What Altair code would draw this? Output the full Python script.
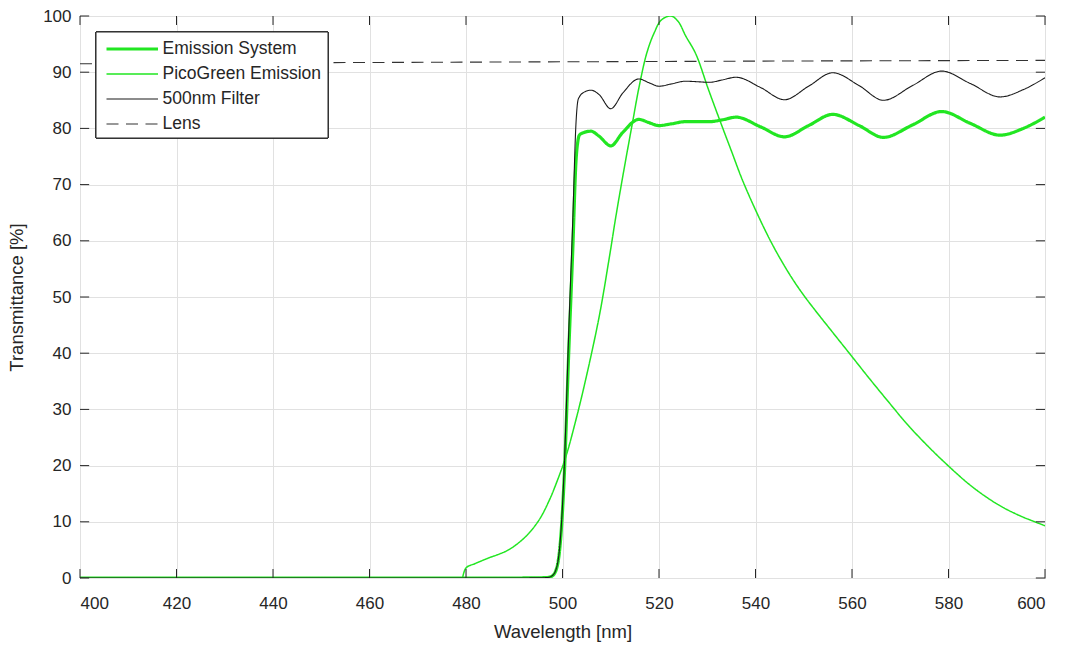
import altair as alt
import pandas as pd

# ---- data ----
wl = [400, 490, 496, 497, 498, 499, 499.7, 500.4, 501.3, 502.1,
      502.8, 503.2, 503.5, 504.2, 505.9, 507.6, 510, 512.5, 515.8, 518,
      520, 522.5, 525.5, 528, 530.5, 533, 536, 541, 546, 551,
      556, 561.5, 566.5, 572.5, 578.6, 584.5, 590.7, 595.5, 600]
filter500 = [0, 0, 0.05, 0.1, 0.5, 2.7, 8.6, 20.5, 44, 63,
             81, 85, 85.6, 86.3, 86.8, 86.0, 83.5, 86.3, 88.8, 88.1,
             87.5, 87.9, 88.4, 88.3, 88.2, 88.6, 89.1, 87.3, 85.1, 87.5,
             89.9, 87.6, 85.0, 87.6, 90.2, 88.0, 85.6, 86.9, 89.0]
emission_system = [0, 0, 0.05, 0.1, 0.45, 2.5, 7.9, 18.8, 40.3, 57.7,
                   74.2, 77.8, 78.8, 79.2, 79.5, 78.6, 76.9, 79.3, 81.6, 81.0,
                   80.5, 80.8, 81.2, 81.2, 81.2, 81.5, 82.0, 80.3, 78.5, 80.5,
                   82.5, 80.5, 78.4, 80.6, 83.0, 80.9, 78.8, 80.0, 82.0]

pg_wl = [479.3, 480, 482, 484.8, 487, 489, 492.4, 495.2, 497.3, 498.6,
         500.7, 502.8, 504.8, 507.6, 509.7, 511, 512.5, 514.5, 515.9, 517.5,
         519, 520.5, 522.5, 524, 525.5, 527.6, 530.3, 533.1, 535, 537.2,
         540, 542.8, 545, 547.6, 550, 552.4, 556, 559.9, 563.5, 567.6,
         571.5, 575.8, 579.9, 584.1, 587.5, 591, 595, 600]
picogreen = [0, 1.8, 2.6, 3.6, 4.3, 5.1, 7.4, 10.4, 13.9, 16.6,
             21.6, 28.2, 35.3, 46.5, 57, 64, 71.5, 81, 87.5, 93.5,
             97, 99.3, 100, 99, 96.5, 93.3, 86.8, 80.3, 76, 71,
             65.5, 60.5, 57, 53.3, 50.3, 47.6, 43.7, 39.5, 35.6, 31.3,
             27.3, 23.4, 20, 16.8, 14.6, 12.7, 11, 9.3]

lens_wl = [400, 450, 500, 550, 600]
lens = [91.5, 91.7, 91.85, 92.0, 92.1]

series_names = ["Emission System", "PicoGreen Emission", "500nm Filter", "Lens"]
series_colors = ["#22e622", "#22e622", "#1a1a1a", "#333333"]
series_widths = [3.2, 1.5, 1.1, 1.1]
series_dashes = [[1, 0], [1, 0], [1, 0], [12, 7.5]]
series_interp = ["monotone", "catmull-rom", "monotone", "linear"]

x_ticks = list(range(400, 601, 20))
y_ticks = list(range(0, 101, 10))

# ---- build table ----
frames = [
    pd.DataFrame({"wl": wl, "T": emission_system, "series": series_names[0]}),
    pd.DataFrame({"wl": pg_wl, "T": picogreen, "series": series_names[1]}),
    pd.DataFrame({"wl": wl, "T": filter500, "series": series_names[2]}),
    pd.DataFrame({"wl": lens_wl, "T": lens, "series": series_names[3]}),
]
df = pd.concat(frames, ignore_index=True)
legend_df = pd.DataFrame({"series": series_names, "idx": list(range(len(series_names)))})

FONT = "Liberation Sans"
TXT = "#262626"

x_scale = alt.Scale(domain=[400, 600], nice=False, zero=False)
y_scale = alt.Scale(domain=[0, 100], nice=False)

x_enc = alt.X("wl:Q", scale=x_scale,
              axis=alt.Axis(values=x_ticks, title="Wavelength [nm]", grid=True,
                            ticks=False, domain=False, labelPadding=17,
                            titlePadding=11, format="d"))
y_enc = alt.Y("T:Q", scale=y_scale,
              axis=alt.Axis(values=y_ticks, title="Transmittance [%]", grid=True,
                            ticks=False, domain=False, labelPadding=9,
                            titlePadding=16, format="d"))

color_enc = alt.Color("series:N", scale=alt.Scale(domain=series_names, range=series_colors), legend=None)
width_enc = alt.StrokeWidth("series:N",
                            scale=alt.Scale(type="ordinal", domain=series_names, range=series_widths),
                            legend=None)
dash_enc = alt.StrokeDash("series:N", scale=alt.Scale(domain=series_names, range=series_dashes), legend=None)

layers = []
for name, interp in zip(series_names, series_interp):
    layers.append(
        alt.Chart(df).transform_filter(alt.datum.series == name)
        .mark_line(interpolate=interp, clip=True)
        .encode(x=x_enc, y=y_enc, color=color_enc, strokeWidth=width_enc, strokeDash=dash_enc)
    )

# inward tick marks (MATLAB box style)
xt = pd.DataFrame({"wl": x_ticks})
yt = pd.DataFrame({"T": y_ticks})
tick_color = "#262626"
bottom_ticks = alt.Chart(xt).mark_rule(color=tick_color, strokeWidth=1).encode(
    x=alt.X("wl:Q", scale=x_scale), y=alt.datum(0), y2=alt.datum(1.6))
top_ticks = alt.Chart(xt).mark_rule(color=tick_color, strokeWidth=1).encode(
    x=alt.X("wl:Q", scale=x_scale), y=alt.datum(100), y2=alt.datum(98.4))
left_ticks = alt.Chart(yt).mark_rule(color=tick_color, strokeWidth=1).encode(
    y=alt.Y("T:Q", scale=y_scale), x=alt.datum(400), x2=alt.datum(401.9))
right_ticks = alt.Chart(yt).mark_rule(color=tick_color, strokeWidth=1).encode(
    y=alt.Y("T:Q", scale=y_scale), x=alt.datum(600), x2=alt.datum(598.1))

# legend (MATLAB style box, top-left inside the axes)
leg_box = alt.Chart(legend_df).mark_rect(
    fill="white", stroke="#262626", strokeWidth=1, clip=False
).encode(x=alt.value(16), x2=alt.value(248), y=alt.value(16), y2=alt.value(122))
leg_base = alt.Chart(legend_df).transform_calculate(ly="33 + 25 * datum.idx")
leg_lines = leg_base.mark_rule(clip=False).encode(
    x=alt.value(26.5), x2=alt.value(78),
    y=alt.Y("ly:Q", scale=None),
    color=color_enc, strokeWidth=width_enc, strokeDash=dash_enc)
leg_text = leg_base.mark_text(
    align="left", baseline="middle", font=FONT, fontSize=17.5, color=TXT, clip=False
).encode(x=alt.value(82.5), y=alt.Y("ly:Q", scale=None), text="series:N")

chart = alt.layer(
    *layers, bottom_ticks, top_ticks, left_ticks, right_ticks,
    leg_box, leg_lines, leg_text
).properties(
    width=965, height=562,
    autosize=alt.AutoSizeParams(type="none"),
    padding={"left": 80, "top": 16, "right": 21, "bottom": 67},
    background="white",
).configure_view(
    stroke="#262626", strokeWidth=1
).configure_axis(
    labelFont=FONT, titleFont=FONT, labelFontSize=17, titleFontSize=18.5,
    labelColor=TXT, titleColor=TXT, titleFontWeight="normal",
    gridColor="#e1e1e1", gridWidth=1,
)

chart.save("out.html", embed_options={"renderer": "svg", "actions": False})
